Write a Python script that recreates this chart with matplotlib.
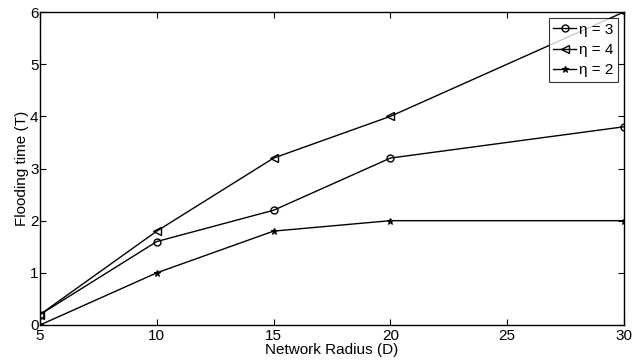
import matplotlib

matplotlib.use("Agg", force=True)
import matplotlib.pyplot as plt

radius = [5, 10, 15, 20, 30]
eta3 = [0.2, 1.6, 2.2, 3.2, 3.8]
eta4 = [0.2, 1.8, 3.2, 4.0, 6.0]
eta2 = [0.0, 1.0, 1.8, 2.0, 2.0]
xticks = [5, 10, 15, 20, 25, 30]
yticks = [0, 1, 2, 3, 4, 5, 6]

plt.rcParams["font.family"] = ["Liberation Sans", "DejaVu Sans"]
plt.rcParams["font.size"] = 11

fig = plt.figure(figsize=(6.32, 3.62), dpi=100)
ax = fig.add_axes([40 / 632, 1 - 325 / 362, 584 / 632, 313 / 362])

ax.plot(radius, eta3, color="black", lw=1, marker="o", ms=5, mfc="none", mew=1, label="η = 3")
ax.plot(radius, eta4, color="black", lw=1, marker="<", ms=6, mfc="none", mew=1, label="η = 4")
ax.plot(radius, eta2, color="black", lw=1, marker="*", ms=5, mfc="black", mew=0.8, label="η = 2")

ax.set_xlim(5, 30)
ax.set_ylim(0, 6)
ax.set_xticks(xticks)
ax.set_yticks(yticks)
ax.tick_params(direction="in", top=True, right=True, length=4, width=0.8)
ax.tick_params(axis="x", pad=3)
ax.tick_params(axis="y", pad=1)
for s in ax.spines.values():
    s.set_linewidth(1)
ax.set_xlabel("Network Radius (D)", labelpad=0)
ax.set_ylabel("Flooding time (T)", labelpad=1)

leg = ax.legend(loc="upper right", bbox_to_anchor=(0.995, 0.99), frameon=True, fancybox=False,
                edgecolor="black", handlelength=1.5, handletextpad=0.2, borderpad=0.3,
                labelspacing=0.4, borderaxespad=0.2)
leg.get_frame().set_linewidth(0.8)

fig.savefig("out.png", dpi=100)
